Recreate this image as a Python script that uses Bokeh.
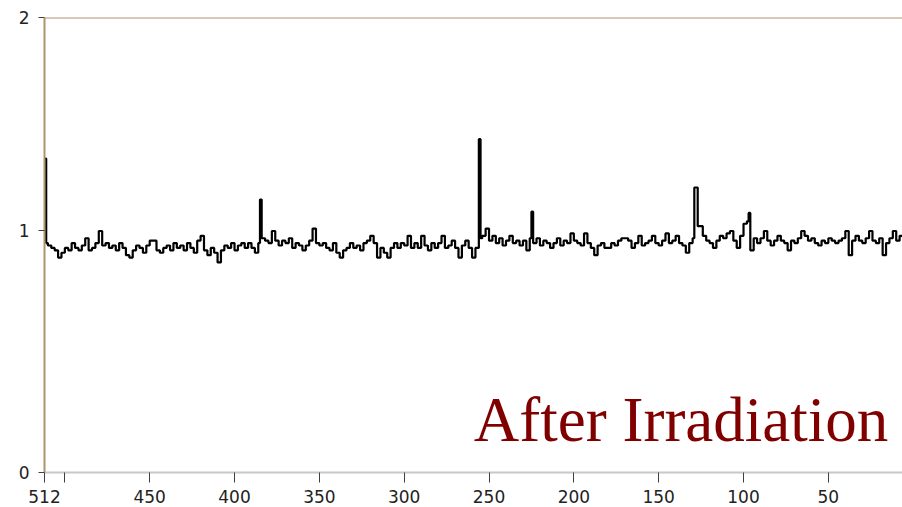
from bokeh.plotting import figure
from bokeh.models import Range1d, FixedTicker, Label, Span
from bokeh.embed import file_html
from bokeh.resources import INLINE

# ---- data ----
first_channel = 512
bin_width = 2  # channels per plotted step in the list below
bin_values = [
    0.95, 0.94, 0.93, 0.92, 0.89, 0.91, 0.93, 0.92, 0.95, 0.93,
    0.92, 0.94, 0.97, 0.92, 0.93, 0.95, 1.00, 0.94, 0.95, 0.93,
    0.94, 0.92, 0.95, 0.93, 0.90, 0.89, 0.92, 0.94, 0.93, 0.91,
    0.94, 0.96, 0.96, 0.92, 0.91, 0.93, 0.94, 0.92, 0.95, 0.93,
    0.94, 0.92, 0.95, 0.93, 0.91, 0.96, 0.98, 0.92, 0.90, 0.93,
    0.91, 0.87, 0.92, 0.94, 0.93, 0.95, 0.92, 0.94, 0.95, 0.93,
    0.95, 0.93, 0.91, 0.95, 0.97, 0.96, 0.95, 1.00, 0.96, 0.94,
    0.96, 0.95, 0.97, 0.93, 0.95, 0.94, 0.92, 0.94, 0.96, 1.01,
    0.95, 0.94, 0.95, 0.93, 0.92, 0.95, 0.91, 0.89, 0.92, 0.93,
    0.95, 0.93, 0.94, 0.92, 0.95, 0.96, 0.98, 0.95, 0.89, 0.93,
    0.91, 0.89, 0.93, 0.95, 0.93, 0.95, 0.94, 0.98, 0.93, 0.95,
    0.93, 0.98, 0.94, 0.92, 0.95, 0.93, 0.95, 0.98, 0.93, 0.94,
    0.96, 0.93, 0.89, 0.94, 0.96, 0.93, 0.89, 0.93, 0.97, 0.98,
    1.01, 0.96, 0.98, 0.95, 0.97, 0.94, 0.96, 0.98, 0.95, 0.96,
    0.94, 0.96, 0.92, 0.97, 0.95, 0.97, 0.94, 0.96, 0.95, 0.93,
    0.95, 0.97, 0.94, 0.96, 0.95, 0.99, 0.96, 0.95, 0.94, 0.99,
    0.95, 0.93, 0.90, 0.94, 0.95, 0.93, 0.93, 0.95, 0.94, 0.96,
    0.97, 0.97, 0.96, 0.93, 0.95, 0.98, 0.94, 0.95, 0.96, 0.98,
    0.95, 0.94, 0.96, 0.99, 0.95, 0.96, 0.98, 0.95, 0.94, 0.91,
    0.95, 0.97, 1.02, 1.02, 0.98, 0.96, 0.95, 0.93, 0.96, 0.98,
    0.97, 0.99, 1.00, 0.96, 0.93, 0.98, 1.03, 1.04, 0.92, 0.97,
    0.95, 0.97, 1.00, 0.96, 0.94, 0.96, 0.98, 0.96, 0.95, 0.92,
    0.96, 0.95, 0.97, 1.00, 0.98, 0.96, 0.97, 0.95, 0.94, 0.96,
    0.95, 0.97, 0.96, 0.95, 0.96, 0.97, 1.00, 0.90, 0.96, 0.98,
    0.96, 0.95, 0.97, 1.00, 0.96, 0.95, 0.97, 0.90, 0.95, 0.97,
    1.00, 0.96, 0.98, 0.97,
]
spike_channels = [512, 385, 256, 225, 129, 128, 97]
spike_values = [1.30, 1.13, 1.38, 1.08, 1.18, 1.18, 1.075]

x_ticks = [512, 500, 450, 400, 350, 300, 250, 200, 150, 100, 50]
x_tick_labels = {500: ""}
y_top = 1.884
y_ticks = [0, 1, y_top]
y_tick_labels = {y_top: "2"}
title_text = "After Irradiation"

# ---- per-channel series ----
values = []
for v in bin_values:
    values += [v] * bin_width
channels = [first_channel - i for i in range(len(values))]
for c, v in zip(spike_channels, spike_values):
    values[first_channel - c] = v

# ---- figure ----
p = figure(width=902, height=507, output_backend="svg", toolbar_location=None,
           x_range=Range1d(512, 6.3), y_range=Range1d(0, y_top),
           min_border_left=44, min_border_right=0, min_border_top=17,
           min_border_bottom=35)
p.xgrid.visible = False
p.ygrid.visible = False
p.outline_line_color = None
p.background_fill_color = "white"
p.border_fill_color = "white"

p.step(x=channels, y=values, mode="after", line_color="black", line_width=2.2)

tan = "#b09468"
p.add_layout(Span(location=y_top, dimension="width", line_color=tan, line_width=2))

xa = p.xaxis[0]
xa.ticker = FixedTicker(ticks=x_ticks)
xa.major_label_overrides = x_tick_labels
xa.axis_line_color = "#c8c8c8"
xa.axis_line_width = 2
xa.major_tick_line_color = "#404040"
xa.major_tick_out = 10
xa.major_tick_in = 0
xa.minor_tick_line_color = None
xa.major_label_standoff = 7
xa.major_label_text_font = "DejaVu Sans"
xa.major_label_text_font_size = "17px"
xa.major_label_text_color = "#222222"

ya = p.yaxis[0]
ya.ticker = FixedTicker(ticks=y_ticks)
ya.major_label_overrides = y_tick_labels
ya.axis_line_color = tan
ya.axis_line_width = 2
ya.major_tick_line_color = "#404040"
ya.major_tick_out = 6
ya.major_tick_in = 0
ya.minor_tick_line_color = None
ya.major_label_standoff = 9
ya.major_label_text_font = "DejaVu Sans"
ya.major_label_text_font_size = "17px"
ya.major_label_text_color = "#222222"

p.add_layout(Label(x=259.0, y=0.218, text=title_text, text_font="Liberation Serif",
                   text_font_size="63px", text_color="#800000",
                   text_baseline="alphabetic"))

open("out.html", "w").write(file_html(p, INLINE))
